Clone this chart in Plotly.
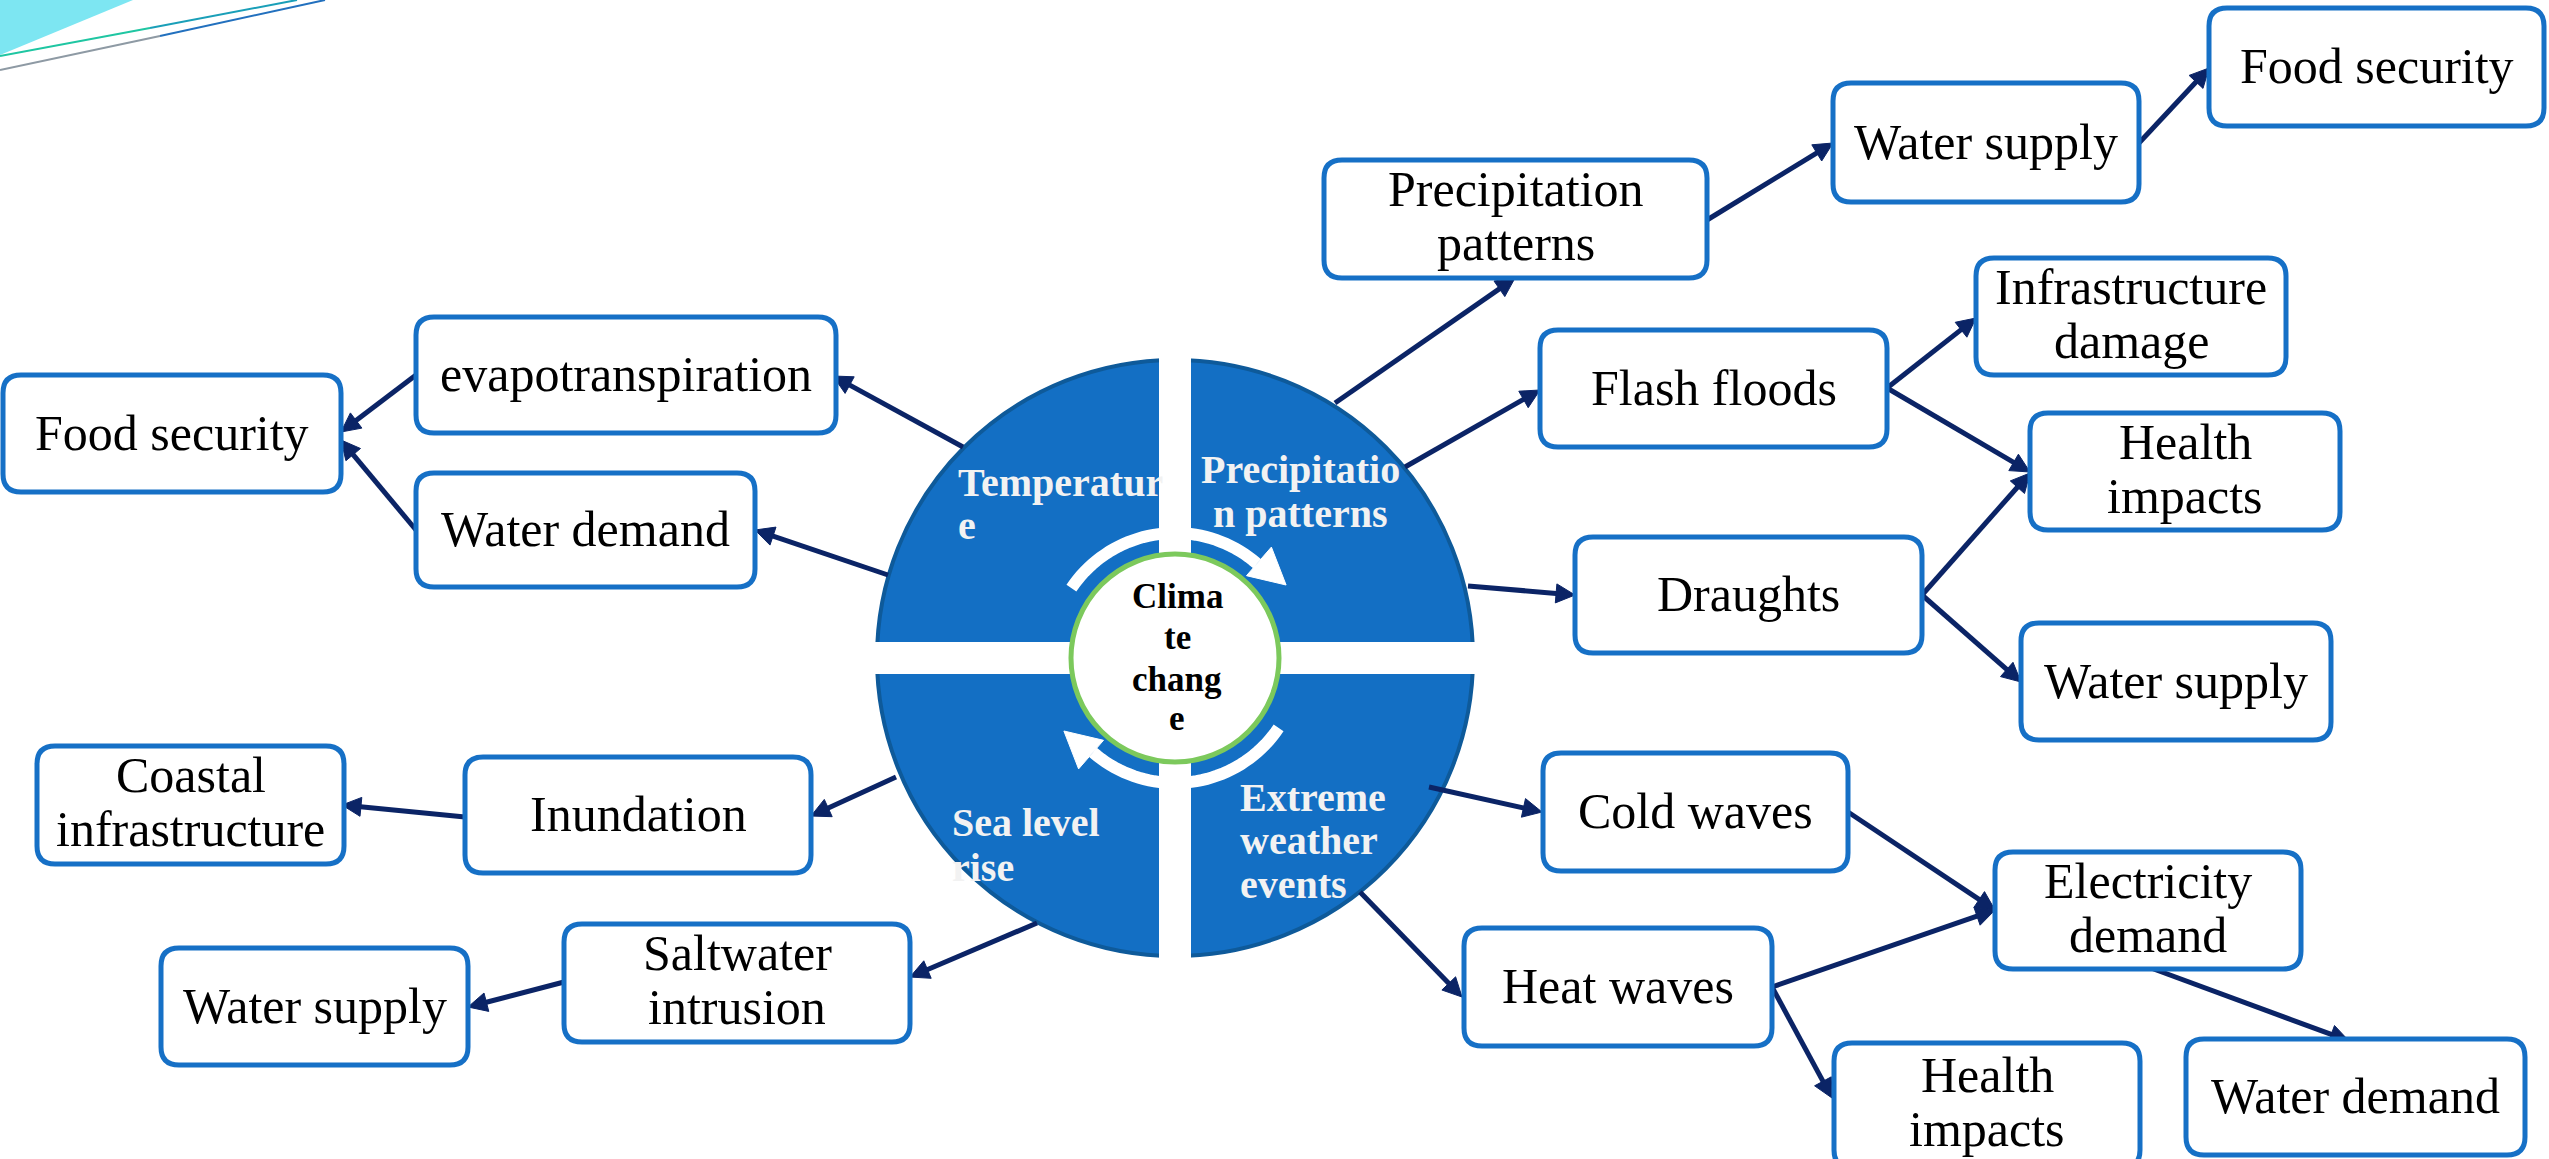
import math
import plotly.graph_objects as go

W, H = 2549, 1159

# ---------------- data ----------------
node_labels = [
    "Food security", "evapotranspiration", "Water demand", "Coastal<br>infrastructure",
    "Inundation", "Water supply", "Saltwater<br>intrusion",
    "Precipitation<br>patterns", "Water supply", "Food security", "Flash floods",
    "Infrastructure<br>damage", "Health<br>impacts", "Draughts", "Water supply",
    "Cold waves", "Electricity<br>demand", "Heat waves", "Health<br>impacts", "Water demand",
]
node_left = [3, 416, 416, 37, 465, 161, 564, 1324, 1833, 2209, 1540, 1976, 2030, 1575, 2021,
             1543, 1995, 1464, 1834, 2186]
node_right = [341, 836, 755, 344, 811, 468, 910, 1707, 2139, 2544, 1887, 2286, 2340, 1922, 2331,
              1848, 2301, 1772, 2140, 2525]
node_top = [375, 317, 473, 746, 757, 948, 924, 160, 83, 8, 330, 258, 413, 537, 623,
            753, 852, 928, 1043, 1039]
node_bottom = [492, 433, 587, 864, 873, 1065, 1042, 278, 202, 126, 447, 375, 530, 653, 740,
               871, 969, 1046, 1168, 1155]

# arrows: start (x, y) -> end (x, y), head at end
edge_x0 = [963, 416, 416, 888, 896, 465, 1037, 564,
           1335, 1707, 2139, 1405, 1887, 1887, 1468, 1922, 1922, 1429, 1360, 1848, 1772, 1772, 2151]
edge_y0 = [447, 375, 530, 575, 777, 817, 923, 982,
           403, 220, 143, 467, 388, 388, 586, 595, 595, 787, 892, 812, 987, 987, 968]
edge_x1 = [833, 341, 341, 755, 811, 342, 910, 468,
           1515, 1833, 2209, 1540, 1976, 2030, 1575, 2030, 2021, 1542, 1462, 1995, 1995, 1832, 2349]
edge_y1 = [376, 432, 440, 530, 816, 805, 977, 1007,
           278, 143, 68, 390, 318, 472, 595, 473, 682, 812, 997, 910, 910, 1098, 1041]

# central wheel
wheel_labels = ["Temperatur<br>e", "Precipitatio<br>n patterns", "Sea level<br>rise",
                "Extreme<br>weather<br>events"]
centre_label = "Clima<br>te<br>chang<br>e"

# ---------------- styles ----------------
BOX_LINE = "#1670C6"
ARROW = "#0B2466"
WHEEL_FILL = "#136FC4"
WHEEL_LINE = "#0E5A9A"
FONT = "Liberation Serif"

shapes = []
annotations = []

# top-left decoration
shapes.append(dict(type="path", path="M0,0 L133,0 L0,55 Z", fillcolor="#7DE6F2",
                   line=dict(width=0), layer="below"))
shapes.append(dict(type="line", x0=0, y0=56, x1=150, y1=28, line=dict(color="#1FC6A2", width=2)))
shapes.append(dict(type="line", x0=150, y0=28, x1=297, y1=0, line=dict(color="#1A9FB8", width=2)))
shapes.append(dict(type="line", x0=0, y0=70, x1=160, y1=36, line=dict(color="#8E9AA4", width=2)))
shapes.append(dict(type="line", x0=160, y0=36, x1=325, y1=0, line=dict(color="#2270BE", width=2)))


def rrect(x0, y0, x1, y1, r):
    return (f"M{x0+r},{y0} L{x1-r},{y0} Q{x1},{y0} {x1},{y0+r} L{x1},{y1-r} "
            f"Q{x1},{y1} {x1-r},{y1} L{x0+r},{y1} Q{x0},{y1} {x0},{y1-r} "
            f"L{x0},{y0+r} Q{x0},{y0} {x0+r},{y0} Z")


# wheel
cx, cy, R = 1175, 658, 298
shapes.append(dict(type="circle", x0=cx - R, x1=cx + R, y0=cy - R, y1=cy + R,
                   fillcolor=WHEEL_FILL, line=dict(color=WHEEL_LINE, width=4)))
shapes.append(dict(type="rect", x0=cx - 16, x1=cx + 16, y0=cy - R - 2, y1=cy + R + 2,
                   fillcolor="white", line=dict(width=0)))
shapes.append(dict(type="rect", x0=cx - R - 2, x1=cx + R + 26, y0=cy - 16, y1=cy + 16,
                   fillcolor="white", line=dict(width=0)))


# curved arrows
def arc_arrow(a0, a1, r, rb):
    pts = []
    n = 40
    for i in range(n + 1):
        a = math.radians(a0 + (a1 - a0) * i / n)
        pts.append((cx + r * math.cos(a), cy - r * math.sin(a)))
    p = "M" + " L".join(f"{x:.1f},{y:.1f}" for x, y in pts)
    shapes.append(dict(type="path", path=p, line=dict(color="white", width=12)))
    t = math.radians(a1)
    px, py = cx + rb * math.cos(t), cy - rb * math.sin(t)
    tx, ty = px + 36 * math.sin(t), py + 36 * math.cos(t)
    c1 = (px + 19 * math.cos(t), py - 19 * math.sin(t))
    c2 = (px - 19 * math.cos(t), py + 19 * math.sin(t))
    shapes.append(dict(type="path",
                       path=f"M{c1[0]:.1f},{c1[1]:.1f} L{tx:.1f},{ty:.1f} L{c2[0]:.1f},{c2[1]:.1f} Z",
                       fillcolor="white", line=dict(color="white", width=1)))


arc_arrow(146, 49, 125, 128)
arc_arrow(326, 229, 125, 128)

# inner circle
ri = 104
shapes.append(dict(type="circle", x0=cx - ri, x1=cx + ri, y0=cy - ri, y1=cy + ri,
                   fillcolor="white", line=dict(color="#7CC95C", width=5)))

# arrows
HL, HW = 19, 9.5
for x0, y0, x1, y1 in zip(edge_x0, edge_y0, edge_x1, edge_y1):
    dx, dy = x1 - x0, y1 - y0
    d = math.hypot(dx, dy)
    ux, uy = dx / d, dy / d
    ex, ey = x1 - ux * (HL - 3), y1 - uy * (HL - 3)
    shapes.append(dict(type="line", x0=x0, y0=y0, x1=ex, y1=ey,
                       line=dict(color=ARROW, width=5)))
    bx, by = x1 - ux * HL, y1 - uy * HL
    c1 = (bx - uy * HW, by + ux * HW)
    c2 = (bx + uy * HW, by - ux * HW)
    shapes.append(dict(type="path",
                       path=f"M{x1},{y1} L{c1[0]:.1f},{c1[1]:.1f} L{c2[0]:.1f},{c2[1]:.1f} Z",
                       fillcolor=ARROW, line=dict(color=ARROW, width=1)))

# boxes
FS = 50
LS = 54
for lab, x0, x1, y0, y1 in zip(node_labels, node_left, node_right, node_top, node_bottom):
    shapes.append(dict(type="path", path=rrect(x0, y0, x1, y1, 18), fillcolor="white",
                       line=dict(color=BOX_LINE, width=5)))
    lines = lab.split("<br>")
    xc = (x0 + x1) / 2
    yc = (y0 + min(y1, H + 6)) / 2 - 1
    if y1 > H:
        yc = (y0 + y1) / 2 - 2
    n = len(lines)
    for i, ln in enumerate(lines):
        yy = yc + (i - (n - 1) / 2) * LS - (2 if n > 1 else 0)
        annotations.append(dict(x=xc, y=yy, text=ln, showarrow=False, xanchor="center",
                                yanchor="middle", font=dict(family=FONT, size=FS, color="black")))

# wheel labels
WFS = 40
WCOL = "#F2F2F2"


def wheel_text(text, x, baselines, anchor, size=WFS, color=WCOL):
    for ln, b in zip(text.split("<br>"), baselines):
        annotations.append(dict(x=x, y=b - 0.34 * size, text=f"<b>{ln}</b>", showarrow=False,
                                xanchor=anchor, yanchor="middle",
                                font=dict(family=FONT, size=size, color=color)))


wheel_text(wheel_labels[0], 956, [496, 539], "left")
wheel_text(wheel_labels[1], 1300, [483, 527], "center")
wheel_text(wheel_labels[2], 950, [836, 881], "left")
wheel_text(wheel_labels[3], 1238, [811, 854, 898], "left")
wheel_text(centre_label, 1177, [608, 649, 691, 730], "center", size=35, color="black")

fig = go.Figure()
fig.add_trace(go.Scatter(x=[0, W], y=[0, H], mode="markers", marker=dict(opacity=0),
                         hoverinfo="skip", showlegend=False))
fig.update_layout(
    width=W, height=H, margin=dict(l=0, r=0, t=0, b=0),
    paper_bgcolor="white", plot_bgcolor="white",
    xaxis=dict(range=[0, W], visible=False, fixedrange=True),
    yaxis=dict(range=[H, 0], visible=False, fixedrange=True),
    shapes=shapes, annotations=annotations, showlegend=False,
)
fig.write_html("out.html")
